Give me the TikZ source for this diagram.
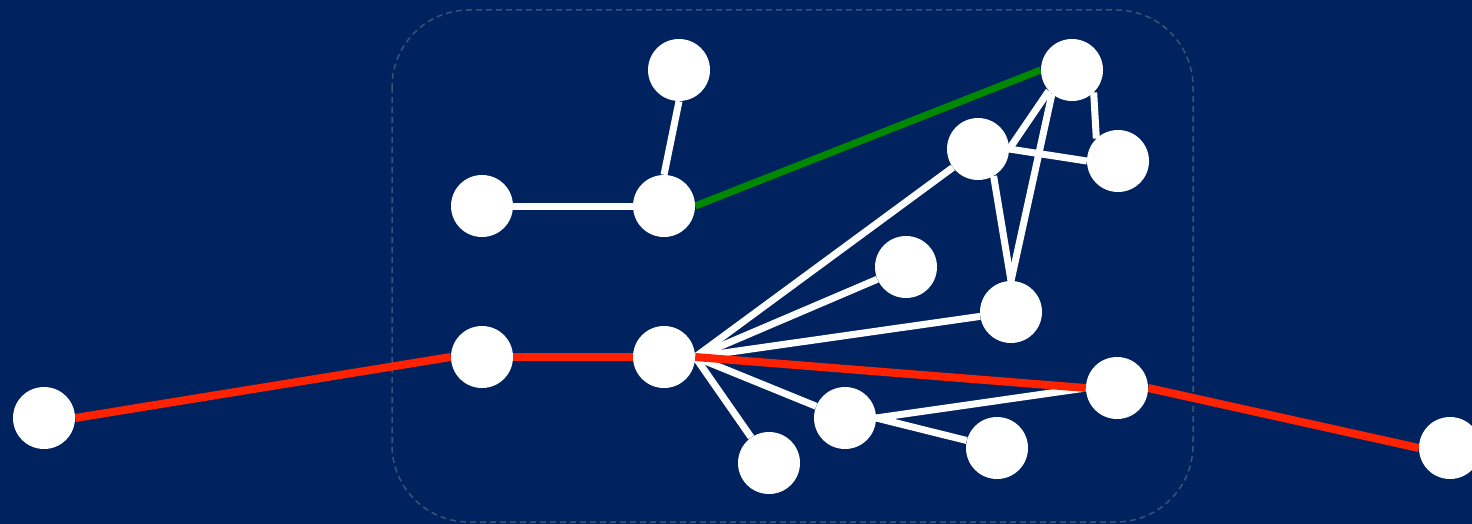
\documentclass[tikz,border=0pt]{standalone}
\pgfdeclarelayer{bg}
\pgfdeclarelayer{edges}
\pgfsetlayers{bg,edges,main}
\definecolor{bgnavy}{RGB}{0,34,94}
\definecolor{redline}{RGB}{255,34,0}
\definecolor{greenline}{RGB}{0,136,0}
\definecolor{frameline}{RGB}{52,84,124}
\begin{document}
\begin{tikzpicture}[x=1pt,y=-1pt,
  vertex/.style={circle,fill=white,minimum size=62pt,inner sep=0pt},
  plain/.style={draw=white,line width=7pt},
  redpath/.style={draw=redline,line width=8pt},
  greenpath/.style={draw=greenline,line width=7pt},
  groupbox/.style={draw=frameline,line width=1.5pt,dash pattern=on 6pt off 4pt,rounded corners=77pt}]
\useasboundingbox (0,0) rectangle (1472,524);
\begin{pgfonlayer}{bg}
\fill[bgnavy] (0,0) rectangle (1472,524);
\draw[groupbox] (392,10) rectangle (1193,522);
\end{pgfonlayer}
\node[vertex] (A) at (44,418) {};
\node[vertex] (B) at (482,357) {};
\node[vertex] (C) at (664,357) {};
\node[vertex] (D) at (482,206) {};
\node[vertex] (E) at (664,206) {};
\node[vertex] (F) at (679,70) {};
\node[vertex] (G) at (1072,70) {};
\node[vertex] (H) at (978,149) {};
\node[vertex] (I) at (1118,161) {};
\node[vertex] (J) at (906,267) {};
\node[vertex] (K) at (1011,312) {};
\node[vertex] (L) at (1117,388) {};
\node[vertex] (M) at (845,418) {};
\node[vertex] (N) at (769,463) {};
\node[vertex] (O) at (997,448) {};
\node[vertex] (P) at (1450,448) {};
\begin{pgfonlayer}{edges}
\draw[plain] (D.east) -- (E.west);
\draw[plain] (E.north) -- (F.south);
\draw[plain] (C.east) -- (H);
\draw[plain] (C.east) -- (J);
\draw[plain] (C.east) -- (K);
\draw[plain] (C.east) -- (M);
\draw[plain] (C.east) -- (N);
\draw[plain] (M.east) -- (L.west);
\draw[plain] (M.east) -- (O);
\draw[plain] (G.222) -- (H.east);
\draw[plain] (G.230) -- (K.north);
\draw[plain] (G.314) -- (I.134);
\draw[plain] (H.east) -- (I.west);
\draw[plain] (H.300) -- (K.north);
\draw[redpath] (A.east) -- (B.west);
\draw[redpath] (B.east) -- (C.west);
\draw[redpath] (C.east) -- (L.west);
\draw[redpath] (L.east) -- (P.west);
\draw[greenpath] (E.east) -- (G.west);
\end{pgfonlayer}
\end{tikzpicture}
\end{document}
